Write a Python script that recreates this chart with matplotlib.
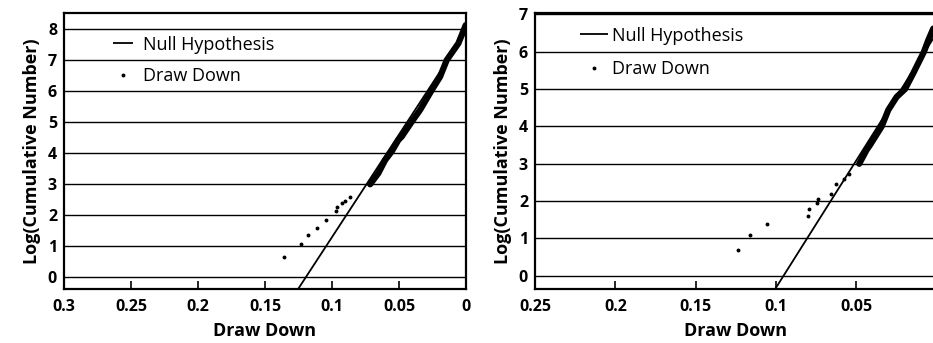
import matplotlib
matplotlib.use("Agg")
import matplotlib.pyplot as plt

plt.rcParams["font.family"] = ["Open Sans", "DejaVu Sans"]

# ---- Panel A -------------------------------------------------------------
a_tail_x = [0.1360, 0.1235, 0.1177, 0.1112, 0.1042, 0.0974, 0.0960, 0.0929, 0.0903, 0.0868]
a_tail_y = [0.645, 1.045, 1.345, 1.57, 1.83, 2.13, 2.26, 2.39, 2.44, 2.57]
a_band_x = [0.0716, 0.0654, 0.0604, 0.0553, 0.0505, 0.0480, 0.0405, 0.0343,
            0.0256, 0.0194, 0.0144, 0.0057, 0.0002]
a_band_y = [2.98, 3.34, 3.76, 4.05, 4.41, 4.52, 5.00, 5.38,
            6.02, 6.45, 6.99, 7.53, 8.12]
a_null_x = [0.1253, 0.0]
a_null_y = [-0.40, 7.90]
a_xticks = [0.3, 0.25, 0.2, 0.15, 0.1, 0.05, 0.0]
a_xticklabels = ["0.3", "0.25", "0.2", "0.15", "0.1", "0.05", "0"]
a_yticks = [0, 1, 2, 3, 4, 5, 6, 7, 8]

# ---- Panel B -------------------------------------------------------------
b_tail_x = [0.1235, 0.1162, 0.1053, 0.0801, 0.0793, 0.0747, 0.0739, 0.0660,
            0.0625, 0.0579, 0.0544]
b_tail_y = [0.69, 1.10, 1.39, 1.60, 1.78, 1.94, 2.05, 2.20, 2.47, 2.59, 2.72]
b_band_x = [0.0482, 0.0436, 0.0415, 0.0342, 0.0301, 0.0249, 0.0197, 0.0146,
            0.0079, 0.0052, 0.0021]
b_band_y = [3.00, 3.37, 3.50, 4.00, 4.44, 4.79, 5.00, 5.42, 6.00, 6.31, 6.62]
b_null_x = [0.1006, 0.0]
b_null_y = [-0.36, 6.50]
b_xticks = [0.25, 0.2, 0.15, 0.1, 0.05, 0.0]
b_xticklabels = ["0.25", "0.2", "0.15", "0.1", "0.05", "0"]
b_yticks = [0, 1, 2, 3, 4, 5, 6, 7]

x_label = "Draw Down"
y_label = "Log(Cumulative Number)"
null_label = "Null Hypothesis"
dd_label = "Draw Down"

fig = plt.figure(figsize=(9.33, 3.43), dpi=100)
ax_a = fig.add_axes([0.0686, 0.1574, 0.4309, 0.8047])
ax_b = fig.add_axes([0.5734, 0.1566, 0.4305, 0.8047])


def draw_panel(ax, tail_x, tail_y, band_x, band_y, null_x, null_y,
               xticks, xticklabels, yticks, xlim, ylim,
               handlelength, handletextpad, labelspacing, anchor):
    for yv in yticks:
        ax.axhline(yv, color="black", lw=1.0, zorder=1)
    ax.plot(null_x, null_y, color="black", lw=1.3, zorder=3,
            label=null_label, solid_capstyle="butt")
    ax.plot(band_x, band_y, color="black", lw=4.5, zorder=4,
            solid_capstyle="round", solid_joinstyle="round")
    ax.plot(tail_x, tail_y, linestyle="none", marker="o", markersize=1.8,
            color="black", zorder=4, label=dd_label)
    ax.set_xlim(*xlim)
    ax.set_ylim(*ylim)
    ax.set_xticks(xticks)
    ax.set_xticklabels(xticklabels)
    ax.set_yticks(yticks)
    ax.tick_params(axis="x", direction="in", length=6, width=1.2,
                   pad=7, labelsize=11.5)
    ax.tick_params(axis="y", length=0, pad=5, labelsize=11.5)
    for lab in ax.get_xticklabels() + ax.get_yticklabels():
        lab.set_fontweight("bold")
    for sp in ax.spines.values():
        sp.set_linewidth(1.6)
    ax.set_xlabel(x_label, fontsize=13, fontweight="bold", labelpad=5)
    ax.set_ylabel(y_label, fontsize=13, fontweight="bold", labelpad=5)
    leg = ax.legend(loc="upper left", bbox_to_anchor=anchor, frameon=False,
                    fontsize=13, borderpad=0, borderaxespad=0,
                    handlelength=handlelength, handletextpad=handletextpad,
                    labelspacing=labelspacing, markerscale=1.0)
    leg.set_zorder(6)


draw_panel(ax_a, a_tail_x, a_tail_y, a_band_x, a_band_y, a_null_x, a_null_y,
           a_xticks, a_xticklabels, a_yticks, (0.3, 0.0), (-0.40, 8.51),
           1.1, 0.55, 0.75, (0.122, 0.918))
draw_panel(ax_b, b_tail_x, b_tail_y, b_band_x, b_band_y, b_null_x, b_null_y,
           b_xticks, b_xticklabels, b_yticks, (0.25, 0.0), (-0.36, 7.03),
           1.55, 0.2, 0.85, (0.112, 0.952))

fig.savefig("out.png", dpi=100)
